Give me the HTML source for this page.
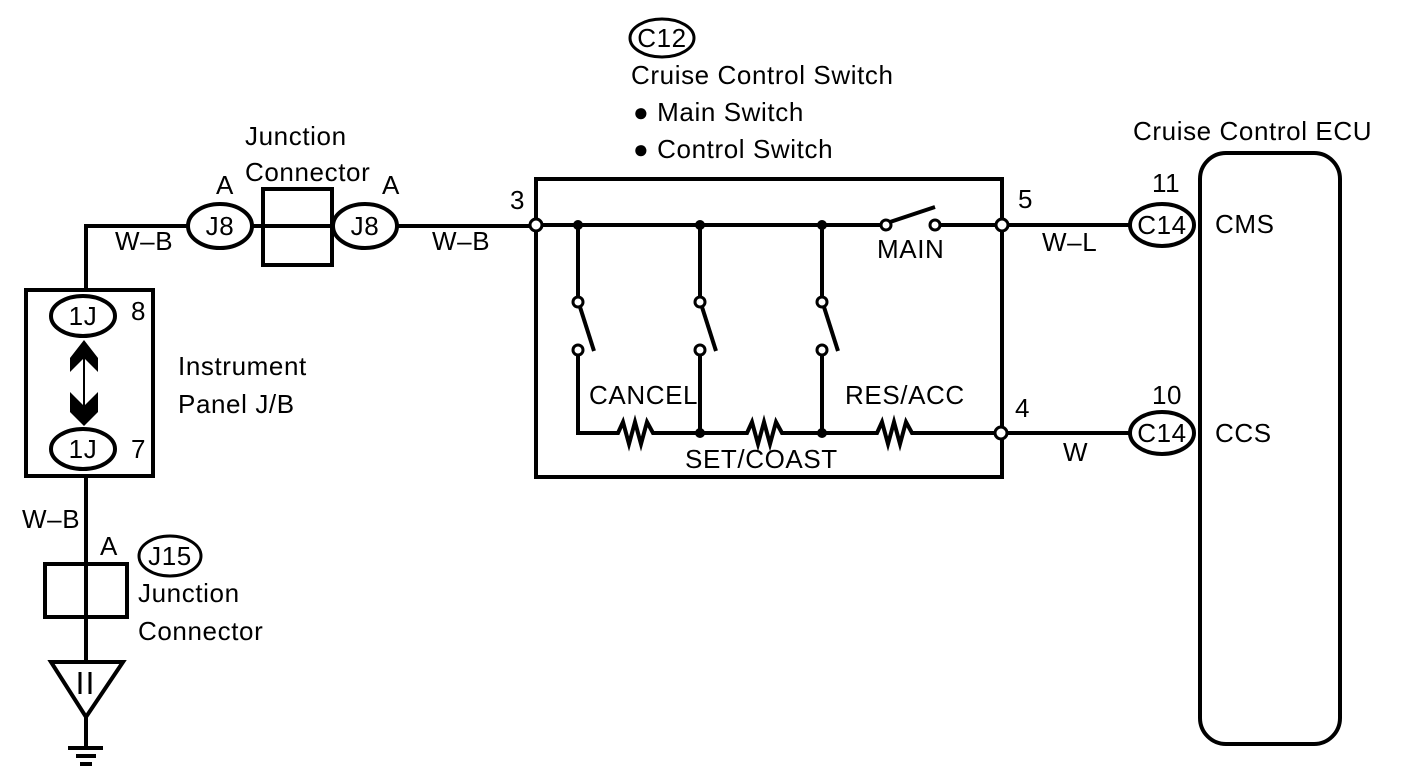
<!DOCTYPE html>
<html><head><style>
html,body{margin:0;padding:0;background:#fff;}
svg{display:block;}
text{font-family:"Liberation Sans",sans-serif;font-size:26px;letter-spacing:0.6px;fill:#000;}
</style></head><body>
<svg width="1408" height="784" viewBox="0 0 1408 784" xmlns="http://www.w3.org/2000/svg">
<g fill="none" stroke="#000" stroke-width="4">
<polyline points="86,290 86,226 187,226"/>
<line x1="252" y1="226" x2="333" y2="226"/>
<line x1="397" y1="226" x2="536" y2="226"/>
<ellipse cx="220" cy="226" rx="32" ry="22"/>
<ellipse cx="365" cy="226" rx="32" ry="22"/>
<rect x="263" y="189" width="69" height="76"/>
<rect x="26" y="290" width="127" height="186"/>
<ellipse cx="83" cy="316" rx="32" ry="20"/>
<ellipse cx="83" cy="449" rx="32" ry="20"/>
<line x1="84" y1="345" x2="84" y2="420" stroke-width="2"/>
<line x1="86" y1="476" x2="86" y2="662"/>
<line x1="86" y1="717" x2="86" y2="746"/>
<rect x="45" y="564" width="82" height="53"/>
<polygon points="51,662 123,662 86,717"/>
<line x1="68" y1="748" x2="103" y2="748"/>
<line x1="76" y1="756" x2="96" y2="756"/>
<line x1="80" y1="764" x2="92" y2="764"/>
<ellipse cx="170" cy="556" rx="31" ry="20" stroke-width="3"/>
<ellipse cx="662" cy="38" rx="32" ry="19" stroke-width="3"/>
<rect x="536" y="179" width="466" height="298"/>
<line x1="536" y1="225" x2="886" y2="225"/>
<line x1="935" y1="225" x2="1130" y2="225"/>
<line x1="890" y1="222" x2="935" y2="207"/>
<line x1="1001" y1="433" x2="1130" y2="433"/>
<polyline points="578,225 578,298"/>
<polyline points="700,225 700,298"/>
<polyline points="822,225 822,298"/>
<line x1="580" y1="307" x2="594" y2="351"/>
<line x1="702" y1="307" x2="716" y2="351"/>
<line x1="824" y1="307" x2="838" y2="351"/>
<polyline points="578,356 578,433 618,433 623,422 629,444 635,422 641,444 647,422 653,433 700,433"/>
<polyline points="700,356 700,433 747,433 752,422 758,444 764,422 770,444 776,422 782,433 822,433"/>
<polyline points="822,356 822,433 877,433 882,422 888,444 894,422 900,444 906,422 912,433 1001,433"/>
<ellipse cx="1162" cy="225" rx="32" ry="21"/>
<ellipse cx="1162" cy="433" rx="32" ry="21"/>
<rect x="1200" y="153" width="140" height="591" rx="26"/>
</g>
<g fill="#fff" stroke="#000" stroke-width="3">
<circle cx="536" cy="225" r="6"/><circle cx="1002" cy="225" r="6"/><circle cx="1001" cy="433" r="6"/>
<circle cx="578" cy="302" r="5"/><circle cx="578" cy="350" r="5"/>
<circle cx="700" cy="302" r="5"/><circle cx="700" cy="350" r="5"/>
<circle cx="822" cy="302" r="5"/><circle cx="822" cy="350" r="5"/>
<circle cx="886" cy="225" r="5"/><circle cx="935" cy="225" r="5"/>
</g>
<g fill="#000">
<circle cx="578" cy="225" r="5"/><circle cx="700" cy="225" r="5"/><circle cx="822" cy="225" r="5"/>
<circle cx="700" cy="433" r="5"/><circle cx="822" cy="433" r="5"/>
<polygon points="70,372 70,358 84,340 98,358 98,372 84,358"/>
<polygon points="70,392 84,406 98,392 98,412 84,426 70,412"/>
<line x1="80" y1="672" x2="80" y2="694" stroke="#000" stroke-width="3"/>
<line x1="90" y1="672" x2="90" y2="694" stroke="#000" stroke-width="3"/>
</g>
<text x="662" y="47" text-anchor="middle">C12</text>
<text x="631" y="84">Cruise Control Switch</text>
<text x="633" y="121">● Main Switch</text>
<text x="633" y="158">● Control Switch</text>
<text x="1133" y="140">Cruise Control ECU</text>
<text x="245" y="145">Junction</text>
<text x="245" y="181">Connector</text>
<text x="216" y="194">A</text>
<text x="382" y="194">A</text>
<text x="220" y="235" text-anchor="middle">J8</text>
<text x="365" y="235" text-anchor="middle">J8</text>
<text x="115" y="250">W–B</text>
<text x="432" y="250">W–B</text>
<text x="510" y="209">3</text>
<text x="83" y="325" text-anchor="middle">1J</text>
<text x="83" y="458" text-anchor="middle">1J</text>
<text x="131" y="320">8</text>
<text x="131" y="458">7</text>
<text x="178" y="375">Instrument</text>
<text x="178" y="413">Panel J/B</text>
<text x="22" y="528">W–B</text>
<text x="100" y="555">A</text>
<text x="170" y="565" text-anchor="middle">J15</text>
<text x="138" y="602">Junction</text>
<text x="138" y="640">Connector</text>
<text x="877" y="258">MAIN</text>
<text x="589" y="404">CANCEL</text>
<text x="845" y="404">RES/ACC</text>
<text x="685" y="468">SET/COAST</text>
<text x="1018" y="208">5</text>
<text x="1042" y="251">W–L</text>
<text x="1015" y="417">4</text>
<text x="1063" y="461">W</text>
<text x="1152" y="192">11</text>
<text x="1152" y="404">10</text>
<text x="1162" y="234" text-anchor="middle">C14</text>
<text x="1162" y="442" text-anchor="middle">C14</text>
<text x="1215" y="233">CMS</text>
<text x="1215" y="442">CCS</text>
</svg>
</body></html>
